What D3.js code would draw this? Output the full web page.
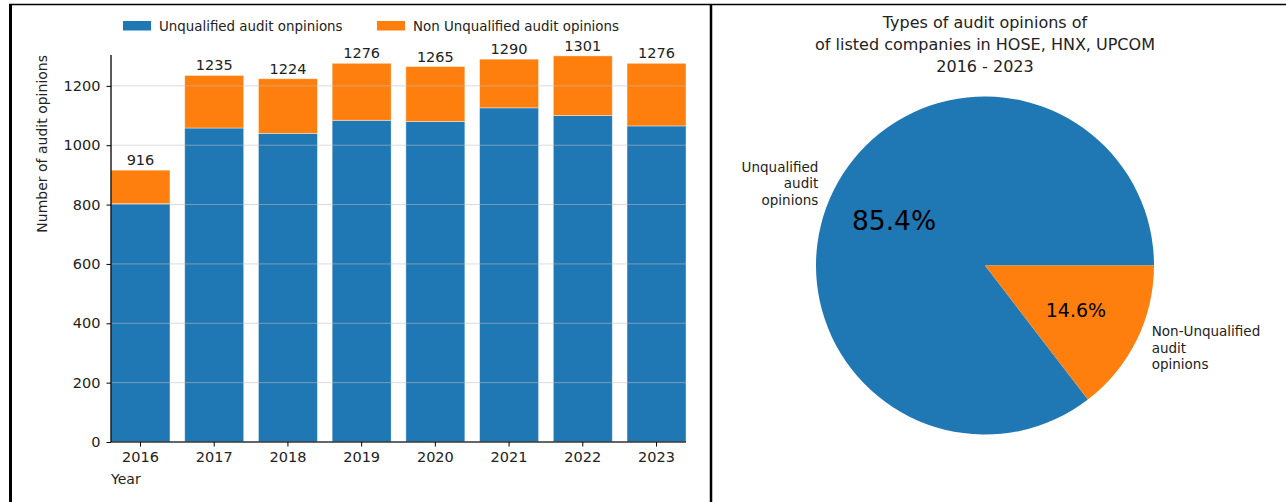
<!DOCTYPE html>
<html>
<head>
<meta charset="utf-8">
<script src="https://cdn.jsdelivr.net/npm/d3@7"></script>
<style>
    body { margin: 0; background: #fff; }
    text { font-family: "DejaVu Sans", sans-serif; fill: #222; }
</style>
</head>
<body>
<div id="chart"></div>
<script>
// data
let years = ['2016', '2017', '2018', '2019', '2020', '2021', '2022', '2023'];
let unqualified = [803, 1058, 1040, 1084, 1080, 1126, 1100, 1065];
let nonUnqualified = [113, 177, 184, 192, 185, 164, 201, 211];
let yTicks = [0, 200, 400, 600, 800, 1000, 1200];
let seriesNames = ['Unqualified audit onpinions', 'Non Unqualified audit opinions'];
let pieLabels = [['Unqualified', 'audit', 'opinions'], ['Non-Unqualified', 'audit', 'opinions']];
let titleLines = ['Types of audit opinions of', 'of listed companies in HOSE, HNX, UPCOM', '2016 - 2023'];
let colors = ['#1f77b4', '#ff7f0e'];

let W = 1286, H = 502;
let svg = d3.select('#chart').append('svg')
    .attr('width', W)
    .attr('height', H);

//table borders
let frame = svg.append('g').attr('stroke', '#000');
frame.append('line').attr('x1', 9).attr('x2', W).attr('y1', 4.5).attr('y2', 4.5).attr('stroke-width', 1.5);
frame.append('line').attr('x1', 10.5).attr('x2', 10.5).attr('y1', 4).attr('y2', H).attr('stroke-width', 3);
frame.append('line').attr('x1', 711).attr('x2', 711).attr('y1', 4).attr('y2', H).attr('stroke-width', 2.5);

// ---------- stacked bars ----------
let totals = years.map(function (d, i) {
    return unqualified[i] + nonUnqualified[i];
});
let rows = years.map(function (d, i) {
    return {year: d, a: unqualified[i], b: nonUnqualified[i]};
});
let stack = d3.stack().keys(['a', 'b'])(rows);

let x0 = 111, x1 = 686;
let xScale = d3.scaleBand()
    .domain(years)
    .range([x0, x1])
    .paddingInner(0.2)
    .paddingOuter(0);
let yScale = d3.scaleLinear()
    .domain([0, 1304])
    .range([442, 55]);

let g = svg.append('g');

g.selectAll('g.layer')
    .data(stack)
    .enter()
    .append('g')
    .attr('class', 'layer')
    .attr('fill', function (d, i) {
        return colors[i];
    })
    .selectAll('rect')
    .data(function (d) { return d; })
    .enter()
    .append('rect')
    .attr('x', function (d) { return xScale(d.data.year); })
    .attr('y', function (d) { return yScale(d[1]); })
    .attr('width', xScale.bandwidth())
    .attr('height', function (d) { return yScale(d[0]) - yScale(d[1]); })
    .attr('stroke', 'rgba(255,255,255,0.5)')
    .attr('stroke-width', 0.8);

//grid on top of bars
g.selectAll('line.grid')
    .data(yTicks.slice(1))
    .enter()
    .append('line')
    .attr('class', 'grid')
    .attr('x1', x0).attr('x2', x1)
    .attr('y1', function (d) { return yScale(d); })
    .attr('y2', function (d) { return yScale(d); })
    .attr('stroke', 'rgba(190,190,190,0.55)')
    .attr('stroke-width', 1);

//total labels
g.selectAll('text.total')
    .data(totals)
    .enter()
    .append('text')
    .attr('class', 'total')
    .attr('x', function (d, i) { return xScale(years[i]) + xScale.bandwidth() / 2; })
    .attr('y', function (d) { return yScale(d) - 5; })
    .attr('text-anchor', 'middle')
    .attr('font-size', 14.5)
    .text(function (d) { return d; });

//axes
let xAxis = g.append('g')
    .attr('transform', 'translate(0,442)')
    .call(d3.axisBottom(xScale).tickSize(4.5).tickPadding(5));
xAxis.selectAll('text').attr('font-size', 14.5).attr('fill', '#222');

let yAxis = g.append('g')
    .attr('transform', 'translate(' + x0 + ',0)')
    .call(d3.axisLeft(yScale).tickValues(yTicks).tickFormat(d3.format('d')).tickSize(4.5).tickPadding(6));
yAxis.selectAll('text').attr('font-size', 14.5).attr('fill', '#222');

// plain spines without outer tick ends
xAxis.select('.domain').attr('d', 'M' + x0 + ',0H' + x1).attr('stroke', '#333').attr('stroke-width', 1.3);
yAxis.select('.domain').attr('d', 'M0,' + yScale(1304) + 'V442').attr('stroke', '#000').attr('stroke-width', 1.3);

g.append('text')
    .attr('x', x0)
    .attr('y', 484)
    .attr('font-size', 14)
    .text('Year');

g.append('text')
    .attr('transform', 'translate(47,55) rotate(-90)')
    .attr('text-anchor', 'end')
    .attr('font-size', 14)
    .text('Number of audit opinions');

//legend
let legendX = [123, 377];
let legend = g.selectAll('g.legend')
    .data(seriesNames)
    .enter()
    .append('g')
    .attr('class', 'legend')
    .attr('transform', function (d, i) { return 'translate(' + legendX[i] + ',0)'; });
legend.append('rect')
    .attr('x', 0).attr('y', 21)
    .attr('width', 28).attr('height', 9.5)
    .attr('fill', function (d, i) { return colors[i]; });
legend.append('text')
    .attr('x', 36).attr('y', 30.5)
    .attr('font-size', 13.4)
    .text(function (d) { return d; });

// ---------- pie ----------
let pieData = [d3.sum(unqualified), d3.sum(nonUnqualified)];
let total = d3.sum(pieData);
let cx = 985, cy = 265.5, r = 169;

//matplotlib style: start at 3 o'clock, counter clockwise
let pie = d3.pie()
    .sort(null)
    .startAngle(Math.PI / 2)
    .endAngle(Math.PI / 2 - 2 * Math.PI);
let arcs = pie(pieData);
let arc = d3.arc().innerRadius(0).outerRadius(r);

let pg = svg.append('g').attr('transform', 'translate(' + cx + ',' + cy + ')');
pg.selectAll('path')
    .data(arcs)
    .enter()
    .append('path')
    .attr('d', arc)
    .attr('fill', function (d, i) { return colors[i]; });

let pointAt = function (d, k) {
    let a = (d.startAngle + d.endAngle) / 2;
    return [Math.sin(a) * r * k, -Math.cos(a) * r * k];
};

let pctSize = [26.5, 19];
pg.selectAll('text.pct')
    .data(arcs)
    .enter()
    .append('text')
    .attr('class', 'pct')
    .attr('x', function (d) { return pointAt(d, 0.6)[0]; })
    .attr('y', function (d) { return pointAt(d, 0.6)[1]; })
    .attr('dy', '0.36em')
    .attr('text-anchor', 'middle')
    .attr('font-size', function (d, i) { return pctSize[i]; })
    .style('fill', '#000')
    .text(function (d) { return (d.value / total * 100).toFixed(1) + '%'; });

arcs.forEach(function (d, i) {
    let p = pointAt(d, 1.1);
    let lines = pieLabels[i];
    let t = pg.append('text')
        .attr('x', p[0])
        .attr('y', p[1])
        .attr('text-anchor', p[0] < 0 ? 'end' : 'start')
        .attr('font-size', 13.5);
    lines.forEach(function (s, j) {
        t.append('tspan')
            .attr('x', p[0])
            .attr('y', p[1] + (j - (lines.length - 1) / 2) * 16.5)
            .attr('dy', '0.36em')
            .text(s);
    });
});

svg.selectAll('text.title')
    .data(titleLines)
    .enter()
    .append('text')
    .attr('class', 'title')
    .attr('x', cx)
    .attr('y', function (d, i) { return 28 + i * 22; })
    .attr('text-anchor', 'middle')
    .attr('font-size', 16)
    .text(function (d) { return d; });
</script>
</body>
</html>
